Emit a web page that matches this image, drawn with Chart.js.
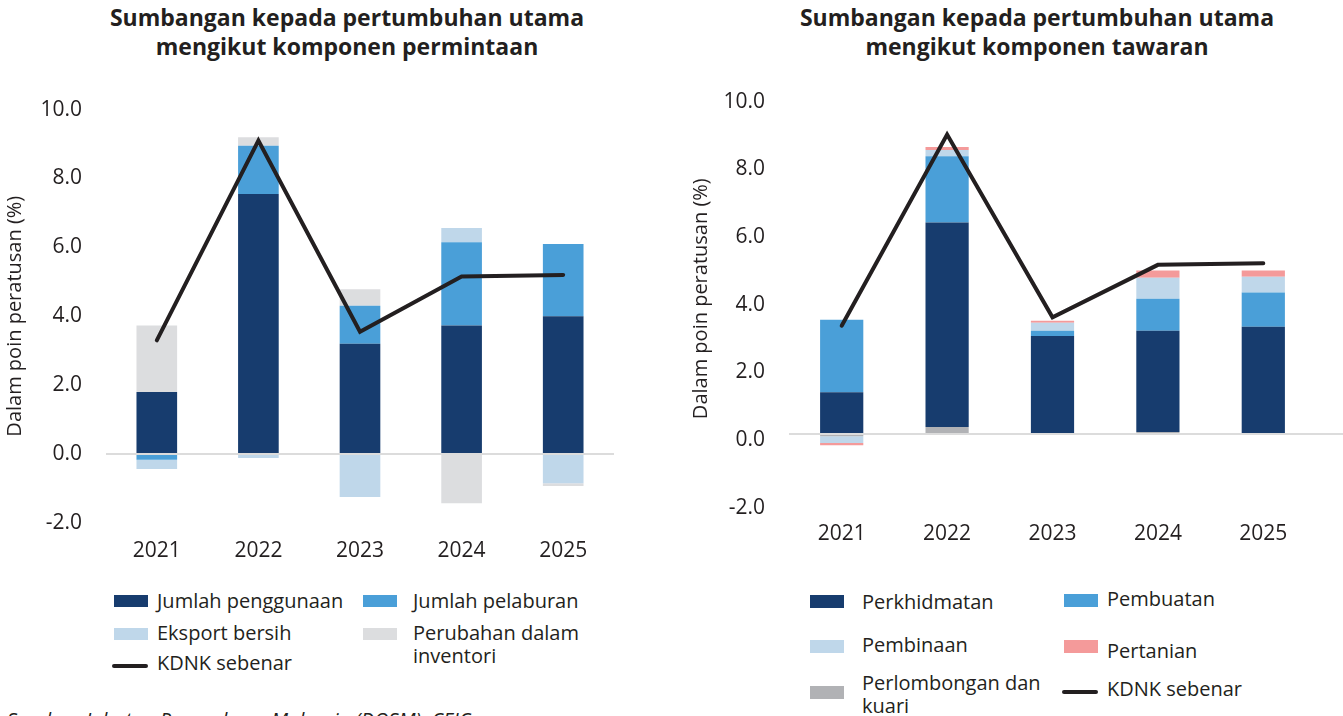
<!DOCTYPE html>
<html>
<head>
<meta charset="utf-8">
<script src="https://cdn.jsdelivr.net/npm/chart.js@4.4.1/dist/chart.umd.min.js"></script>
<style>
  html, body { margin: 0; padding: 0; background: #fff; }
  body { width: 1343px; height: 716px; position: relative; overflow: hidden; font-family: "Open Sans", sans-serif; color: #231f20; }
  .title { position: absolute; text-align: center; font-weight: 700; font-size: 23px; line-height: 29px; white-space: nowrap; }
  .box { position: absolute; }
  .sw { position: absolute; width: 34px; height: 12px; }
  .ln { position: absolute; width: 36px; height: 4px; border-radius: 2px; background: #231f20; }
  .lt { position: absolute; font-size: 20px; line-height: 23px; white-space: nowrap; }
  .src { position: absolute; left: 7px; top: 706px; font-size: 20px; font-style: italic; }
</style>
</head>
<body>
  <div class="title" style="left:47px; top:3px; width:600px;">Sumbangan kepada pertumbuhan utama<br>mengikut komponen permintaan</div>
  <div class="title" style="left:737px; top:3px; width:600px;">Sumbangan kepada pertumbuhan utama<br>mengikut komponen tawaran</div>

  <div class="box" style="left:0; top:73px; width:620px; height:499px;"><canvas id="chartDemand"></canvas></div>
  <div class="box" style="left:680px; top:59px; width:663px; height:500px;"><canvas id="chartSupply"></canvas></div>

  <!-- legenda kiri -->
  <div class="sw" style="left:114px; top:595px; background:#173c6e;"></div>
  <div class="lt" style="left:157px; top:589px;">Jumlah penggunaan</div>
  <div class="sw" style="left:363px; top:595px; background:#4a9fd8;"></div>
  <div class="lt" style="left:413px; top:589px;">Jumlah pelaburan</div>
  <div class="sw" style="left:114px; top:628px; background:#bfd7ea;"></div>
  <div class="lt" style="left:157px; top:621px;">Eksport bersih</div>
  <div class="sw" style="left:363px; top:628px; background:#dcdddf;"></div>
  <div class="lt" style="left:413px; top:621px;">Perubahan dalam<br>inventori</div>
  <div class="ln" style="left:112px; top:664px;"></div>
  <div class="lt" style="left:157px; top:651px;">KDNK sebenar</div>

  <!-- legenda kanan -->
  <div class="sw" style="left:810px; top:595px; height:13px; background:#173c6e;"></div>
  <div class="lt" style="left:862px; top:590px;">Perkhidmatan</div>
  <div class="sw" style="left:1064px; top:594px; height:13px; background:#4a9fd8;"></div>
  <div class="lt" style="left:1107px; top:587px;">Pembuatan</div>
  <div class="sw" style="left:810px; top:640px; height:13px; background:#bfd7ea;"></div>
  <div class="lt" style="left:862px; top:633px;">Pembinaan</div>
  <div class="sw" style="left:1064px; top:640px; height:13px; background:#f49a9a;"></div>
  <div class="lt" style="left:1107px; top:639px;">Pertanian</div>
  <div class="sw" style="left:810px; top:686px; height:13px; background:#b1b2b5;"></div>
  <div class="lt" style="left:862px; top:671px;">Perlombongan dan<br>kuari</div>
  <div class="ln" style="left:1062px; top:690px;"></div>
  <div class="lt" style="left:1107px; top:677px;">KDNK sebenar</div>

  <div class="src">Sumber: Jabatan Perangkaan Malaysia (DOSM), CEIC</div>

<script>
// --- Data ---
const years = ['2021', '2022', '2023', '2024', '2025'];
const yTicks = [-2, 0, 2, 4, 6, 8, 10];

// komponen permintaan
const jumlahPenggunaan = [1.8, 7.55, 3.2, 3.73, 4.0];
const jumlahPelaburan = [-0.17, 1.4, 1.1, 2.42, 2.1];
const eksportBersih = [-0.27, -0.12, -1.25, 0.41, -0.85];
const perubahanInventori = [1.93, 0.25, 0.48, -1.43, -0.08];
const kdnkPermintaan = [3.3, 9.1, 3.55, 5.15, 5.2];

// komponen tawaran
const perkhidmatan = [1.24, 6.04, 2.87, 2.99, 3.14];
const pembuatan = [2.14, 1.96, 0.15, 0.95, 1.01];
const pembinaan = [-0.2, 0.18, 0.24, 0.62, 0.47];
const pertanian = [-0.07, 0.09, 0.06, 0.21, 0.18];
const perlombongan = [-0.06, 0.21, 0.03, 0.06, 0.03];
const kdnkTawaran = [3.2, 8.85, 3.45, 5.0, 5.05];

const ink = '#231f20';
const tickFont = { family: '"Open Sans", sans-serif', size: 21 };

function lineSet(label, data) {
    return {
        type: 'line', label, data, stack: 'kdnk',
        borderColor: ink, borderWidth: 4, pointRadius: 0,
        borderCapStyle: 'round', borderJoinStyle: 'miter', tension: 0
    };
}

function barSet(label, data, color) {
    return { type: 'bar', label, data, backgroundColor: color, stack: 'komponen' };
}

// garisan sifar sampai ke tepi kanvas (carta kanan)
const zeroLinePlugin = {
    id: 'zeroLine',
    beforeDatasetsDraw(chart) {
        const y = chart.scales.y.getPixelForValue(0);
        const ctx = chart.ctx;
        ctx.save();
        ctx.strokeStyle = '#dcdcdc';
        ctx.lineWidth = 2;
        ctx.beginPath();
        ctx.moveTo(chart.chartArea.left + 3, y);
        ctx.lineTo(chart.width, y);
        ctx.stroke();
        ctx.restore();
    }
};

function makeOptions(yWidth, titlePad, pad, barPct, xPad, labelShift) {
    return {
        responsive: true,
        maintainAspectRatio: false,
        animation: false,
        layout: { padding: pad },
        datasets: { bar: { barPercentage: barPct, categoryPercentage: 1 } },
        plugins: { legend: { display: false }, tooltip: { enabled: false } },
        scales: {
            x: {
                stacked: true,
                grid: { display: false },
                border: { display: false },
                ticks: { color: ink, font: tickFont, padding: xPad }
            },
            y: {
                stacked: true,
                min: -2, max: 10,
                afterFit(scale) { scale.width = yWidth; },
                afterBuildTicks(scale) { scale.ticks = yTicks.map(v => ({ value: v })); },
                grid: {
                    drawTicks: false,
                    lineWidth: 2,
                    color: c => (c.tick && c.tick.value === 0 ? '#dcdcdc' : 'rgba(0,0,0,0)')
                },
                border: { display: false },
                ticks: {
                    color: ink, font: tickFont, padding: 24, labelOffset: labelShift,
                    callback: v => Number(v).toFixed(1)
                },
                title: {
                    display: true,
                    text: 'Dalam poin peratusan (%)',
                    color: ink,
                    font: { family: '"Open Sans", sans-serif', size: 20 },
                    padding: { top: titlePad, bottom: 0 }
                }
            }
        }
    };
}

new Chart(document.getElementById('chartDemand'), {
    data: {
        labels: years,
        datasets: [
            lineSet('KDNK sebenar', kdnkPermintaan),
            barSet('Jumlah penggunaan', jumlahPenggunaan, '#173c6e'),
            barSet('Jumlah pelaburan', jumlahPelaburan, '#4a9fd8'),
            barSet('Eksport bersih', eksportBersih, '#bfd7ea'),
            barSet('Perubahan dalam inventori', perubahanInventori, '#dcdddf')
        ]
    },
    options: makeOptions(106, 3, { top: 5, right: 6, left: 0, bottom: 0 }, 0.40, 8, 0)
});

new Chart(document.getElementById('chartSupply'), {
    data: {
        labels: years,
        datasets: [
            lineSet('KDNK sebenar', kdnkTawaran),
            barSet('Perlombongan dan kuari', perlombongan, '#b1b2b5'),
            barSet('Perkhidmatan', perkhidmatan, '#173c6e'),
            barSet('Pembuatan', pembuatan, '#4a9fd8'),
            barSet('Pembinaan', pembinaan, '#bfd7ea'),
            barSet('Pertanian', pertanian, '#f49a9a')
        ]
    },
    options: makeOptions(109, 9, { top: 6, right: 27, left: 0, bottom: 0 }, 0.41, 12, 6),
    plugins: [zeroLinePlugin]
});
</script>
</body>
</html>
